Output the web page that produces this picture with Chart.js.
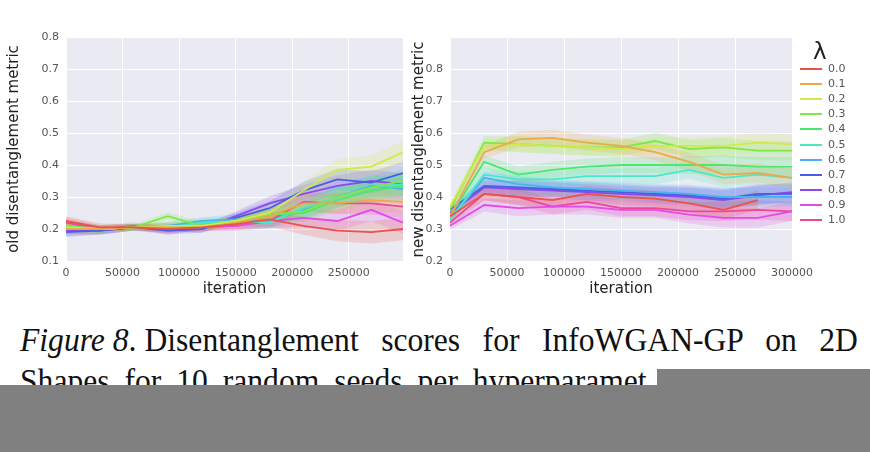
<!DOCTYPE html>
<html>
<head>
<meta charset="utf-8">
<script src="https://cdn.jsdelivr.net/npm/chart.js@4.4.0/dist/chart.umd.min.js"></script>
<style>
  body { margin: 0; width: 870px; height: 452px; background: #fff; position: relative; overflow: hidden; }
  #left { position: absolute; left: 0; top: 0; }
  #right { position: absolute; left: 405px; top: 0; }
  #legend { position: absolute; left: 798px; top: 38px; font-family: "DejaVu Sans", sans-serif; }
  #legend .ttl { position: absolute; left: 15px; top: 0; font-size: 23px; color: #222; }
  #legend .row { position: absolute; left: 0; height: 14px; width: 60px; }
  #legend .sw { position: absolute; left: 2px; top: 6px; width: 22px; height: 2px; }
  #legend .lb { position: absolute; left: 30px; top: 0; font-size: 11px; color: #555; line-height: 14px; }
  .cap { position: absolute; left: 20px; font-family: "Liberation Serif", "Times New Roman", serif; color: #111;
         font-size: 34px; transform-origin: 0 0; transform: scale(0.93, 1); white-space: nowrap; }
  .cap .nb { display: inline-block; white-space: nowrap; }
  #cap1 { top: 321px; width: 901px; white-space: normal; text-align: justify; text-align-last: justify; }
  #cap2 { top: 362px; word-spacing: 7.5px; }
  .gray { position: absolute; background: #808080; }
</style>
</head>
<body>
<canvas id="left" width="410" height="300"></canvas>
<canvas id="right" width="465" height="300"></canvas>
<div id="legend"></div>
<div class="cap" id="cap1"><span class="nb"><i>Figure 8</i>. Disentanglement</span> scores for InfoWGAN-GP on 2D</div>
<div class="cap" id="cap2">Shapes for 10 random seeds per hyperparamet</div>
<div class="gray" style="left:0;top:385px;width:870px;height:67px"></div>
<div class="gray" style="left:657px;top:369px;width:213px;height:17px"></div>
<script>
// lambda values (legend)
const lambdas = ['0.0', '0.1', '0.2', '0.3', '0.4', '0.5', '0.6', '0.7', '0.8', '0.9', '1.0'];

// iterations
const itersLeft = [0, 30000, 60000, 90000, 120000, 150000, 180000, 210000, 240000, 270000, 298000];
const itersRight = [0, 30000, 60000, 90000, 120000, 150000, 180000, 210000, 240000, 270000, 300000];

// tick labels
const xTicksLeft = [0, 50000, 100000, 150000, 200000, 250000];
const xTicksRight = [0, 50000, 100000, 150000, 200000, 250000, 300000];
const yTicksLeft = [0.1, 0.2, 0.3, 0.4, 0.5, 0.6, 0.7, 0.8];
const yTicksRight = [0.2, 0.3, 0.4, 0.5, 0.6, 0.7, 0.8];

// old disentanglement metric, one row per lambda
const oldMetric = [
  [0.225, 0.205, 0.205, 0.2, 0.205, 0.215, 0.23, 0.21, 0.195, 0.19, 0.2],
  [0.2, 0.2, 0.205, 0.205, 0.205, 0.22, 0.24, 0.28, 0.28, 0.29, 0.285],
  [0.205, 0.2, 0.205, 0.21, 0.21, 0.225, 0.25, 0.32, 0.385, 0.395, 0.44],
  [0.21, 0.2, 0.205, 0.24, 0.21, 0.225, 0.245, 0.255, 0.3, 0.33, 0.35],
  [0.2, 0.2, 0.205, 0.21, 0.21, 0.225, 0.245, 0.25, 0.29, 0.32, 0.335],
  [0.205, 0.2, 0.205, 0.205, 0.22, 0.225, 0.22, 0.265, 0.3, 0.33, 0.34],
  [0.21, 0.2, 0.205, 0.21, 0.225, 0.23, 0.225, 0.26, 0.3, 0.335, 0.325],
  [0.19, 0.195, 0.205, 0.195, 0.2, 0.235, 0.265, 0.32, 0.355, 0.345, 0.375],
  [0.195, 0.195, 0.205, 0.205, 0.2, 0.24, 0.28, 0.31, 0.335, 0.35, 0.34],
  [0.2, 0.195, 0.205, 0.2, 0.205, 0.21, 0.225, 0.235, 0.225, 0.26, 0.22],
  [0.22, 0.2, 0.21, 0.195, 0.21, 0.21, 0.225, 0.285, 0.28, 0.28, 0.27]
];
// band half-width per iteration (left)
const oldSpread = [0.015, 0.012, 0.01, 0.012, 0.012, 0.015, 0.022, 0.028, 0.033, 0.035, 0.035];

// new disentanglement metric, one row per lambda
const newMetric = [
  [0.34, 0.41, 0.40, 0.39, 0.41, 0.40, 0.395, 0.38, 0.36, 0.39, null],
  [0.34, 0.54, 0.58, 0.585, 0.57, 0.56, 0.54, 0.51, 0.47, 0.475, 0.46],
  [0.37, 0.56, 0.565, 0.56, 0.555, 0.55, 0.56, 0.56, 0.56, 0.57, 0.565],
  [0.36, 0.57, 0.565, 0.56, 0.555, 0.555, 0.575, 0.55, 0.555, 0.545, 0.545],
  [0.34, 0.51, 0.47, 0.485, 0.495, 0.5, 0.5, 0.5, 0.5, 0.495, 0.495],
  [0.33, 0.47, 0.455, 0.455, 0.465, 0.465, 0.465, 0.485, 0.46, 0.47, 0.46],
  [0.33, 0.46, 0.44, 0.43, 0.425, 0.42, 0.415, 0.41, 0.40, 0.40, 0.40],
  [0.36, 0.435, 0.43, 0.425, 0.42, 0.415, 0.41, 0.405, 0.395, 0.41, 0.41],
  [0.35, 0.43, 0.425, 0.42, 0.415, 0.41, 0.405, 0.40, 0.39, 0.405, 0.415],
  [0.31, 0.375, 0.365, 0.37, 0.37, 0.36, 0.36, 0.345, 0.335, 0.335, 0.355],
  [0.32, 0.41, 0.40, 0.37, 0.385, 0.365, 0.365, 0.355, 0.355, 0.36, 0.355]
];
const newSpread = [0.012, 0.02, 0.025, 0.025, 0.025, 0.025, 0.025, 0.028, 0.03, 0.03, 0.03];

const hue = i => 3.6 + i * 360 / 11;
const color = (i, a) => `hsla(${hue(i)}, 78%, 60%, ${a})`;

// seaborn-like grey plot background
const bgPlugin = {
  id: 'bg',
  beforeDraw(chart) {
    const {ctx, chartArea: a} = chart;
    ctx.save();
    ctx.fillStyle = '#eaeaf2';
    ctx.fillRect(a.left, a.top, a.right - a.left, a.bottom - a.top);
    ctx.restore();
  }
};

function buildDatasets(iters, rows, spread) {
  const sets = [];
  const lines = [];
  rows.forEach((row, i) => {
    const lo = row.map((v, j) => v == null ? null : {x: iters[j], y: v - spread[j]});
    const hi = row.map((v, j) => v == null ? null : {x: iters[j], y: v + spread[j]});
    sets.push({ data: lo.filter(p => p), borderWidth: 0, pointRadius: 0, fill: false });
    sets.push({ data: hi.filter(p => p), borderWidth: 0, pointRadius: 0, fill: '-1', backgroundColor: color(i, 0.2) });
    lines.push({ label: lambdas[i], data: row.map((v, j) => v == null ? null : {x: iters[j], y: v}).filter(p => p),
      borderColor: color(i, 1), borderWidth: 1.8, pointRadius: 0, fill: false, tension: 0 });
  });
  return lines.concat(sets);
}

function makeChart(id, iters, rows, spread, opts) {
  const axisFont = { family: 'DejaVu Sans', size: 15 };
  const tickFont = { family: 'DejaVu Sans', size: 11 };
  return new Chart(document.getElementById(id), {
    type: 'line',
    data: { datasets: buildDatasets(iters, rows, spread) },
    options: {
      responsive: false,
      animation: false,
      layout: { padding: { top: opts.top, right: opts.right, left: 0, bottom: 0 } },
      plugins: {
        legend: { display: false },
        tooltip: { enabled: false },
        filler: { drawTime: 'beforeDatasetsDraw' }
      },
      scales: {
        x: {
          type: 'linear', min: 0, max: opts.xMax,
          afterBuildTicks: s => { s.ticks = opts.xTicks.map(v => ({ value: v })); },
          afterFit: s => { s.height = 300 - opts.bottom; },
          grid: { color: '#ffffff', lineWidth: 1, drawTicks: false },
          border: { display: false },
          ticks: { font: tickFont, color: '#555', padding: 6, maxRotation: 0, callback: v => String(v) },
          title: { display: true, text: 'iteration', font: axisFont, color: '#222', padding: { top: 0, bottom: 2 } }
        },
        y: {
          min: opts.yMin, max: opts.yMax,
          afterBuildTicks: s => { s.ticks = opts.yTicks.map(v => ({ value: v })); },
          afterFit: s => { s.width = opts.yWidth; },
          grid: { color: '#ffffff', lineWidth: 1, drawTicks: false },
          border: { display: false },
          ticks: { font: tickFont, color: '#555', padding: 7, callback: v => v.toFixed(1) },
          title: { display: true, text: opts.yTitle, font: axisFont, color: '#222', padding: { top: 5, bottom: 0 } }
        }
      }
    },
    plugins: [bgPlugin]
  });
}

makeChart('left', itersLeft, oldMetric, oldSpread, {
  top: 37, right: 7, bottom: 261, yWidth: 66, xMax: 298000,
  xTicks: xTicksLeft, yTicks: yTicksLeft, yMin: 0.1, yMax: 0.8,
  yTitle: 'old disentanglement metric'
});

makeChart('right', itersRight, newMetric, newSpread, {
  top: 38, right: 78, bottom: 261, yWidth: 45, xMax: 300000,
  xTicks: xTicksRight, yTicks: yTicksRight, yMin: 0.2, yMax: 0.897,
  yTitle: 'new disentanglement metric'
});

// legend
const legend = document.getElementById('legend');
legend.innerHTML = '<div class="ttl">λ</div>' + lambdas.map((l, i) =>
  `<div class="row" style="top:${24 + i * 15.1}px"><div class="sw" style="background:${color(i, 1)}"></div><div class="lb">${l}</div></div>`
).join('');
</script>
</body>
</html>
